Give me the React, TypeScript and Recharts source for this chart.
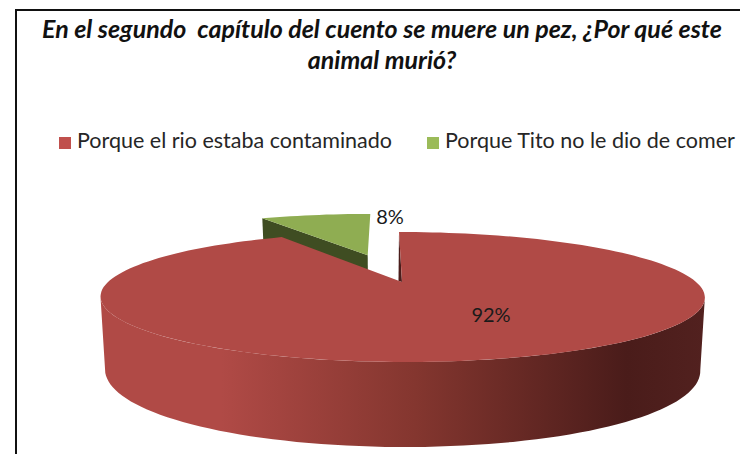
import React from 'react';
import { PieChart, Pie, Cell, Legend } from 'recharts';

// legend order
const categories = ['Porque el rio estaba contaminado', 'Porque Tito no le dio de comer'];
const shares = [92, 8];
const swatchColors = ['#c0504d', '#9bbb59'];
const topColors = ['#b04a46', '#8fad52'];
const titleLines = ['En el segundo  capítulo del cuento se muere un pez, ¿Por qué este', 'animal murió?'];

// the smaller slice is drawn first so the big one covers its wall
const drawOrder = [1, 0];
const rows = drawOrder.map((i) => ({ name: categories[i], value: shares[i], fill: swatchColors[i], top: topColors[i] }));

const W = 740;
const H = 454;
const PIE_CX = 402;
const PIE_CY = 256; // the legend height gets added to this by the chart
const PIE_R = 294;

// perspective of the tilted plate
const PERSP = 0.2308;
const TILT = 3.54;
const SKEW = 3;
const EXPLODE_GREEN = 0.5;
const EDGE = Math.asin(PERSP) * (180 / Math.PI);

const rad = (a: number) => (a * Math.PI) / 180;

const project = (cx: number, cy: number, r: number, u: number, v: number, down = false) => {
    const w = 1 + PERSP * v;
    const x = cx + (r * u) / w - SKEW * v;
    const y = (cy + TILT * v) / w;
    if (!down) return [x, y];
    return [cx + ((x - cx) * 0.985), y + 69.4 - 15.6 * v];
};

const toPath = (pts: number[][]) => pts.map((p, i) => `${i ? 'L' : 'M'}${p[0].toFixed(1)},${p[1].toFixed(1)}`).join(' ') + ' Z';

const arcAngles = (from: number, to: number) => {
    const n = Math.max(8, Math.ceil(Math.abs(to - from) / 2));
    return Array.from({ length: n + 1 }, (_, i) => from + ((to - from) * i) / n);
};

const PlateSlice = (props: any) => {
    const { cx, cy, outerRadius, startAngle, endAngle, payload } = props;
    const big = payload.value > 50;
    const mid = rad((startAngle + endAngle) / 2);
    const ou = big ? 0 : Math.cos(mid) * EXPLODE_GREEN;
    const ov = big ? 0 : Math.sin(mid) * EXPLODE_GREEN;
    const at = (a: number, down = false) => project(cx, cy, outerRadius, ou + Math.cos(rad(a)), ov + Math.sin(rad(a)), down);
    const apex = project(cx, cy, outerRadius, ou, ov);
    const rim = arcAngles(startAngle, endAngle).map((a) => at(a));
    const top = toPath([apex, ...rim]);

    if (big) {
        const front = arcAngles(-180 + EDGE, -EDGE);
        const wall = toPath([...front.map((a) => at(a)), ...[...front].reverse().map((a) => at(a, true))]);
        const outer = at(startAngle);
        return (
            <g>
                <path d={wall} fill="url(#wallShade)" />
                <path d={toPath([outer, apex, [apex[0] - 3.5, apex[1] - 1]])} fill="#4a1d1b" />
                <path d={top} fill={payload.top} />
            </g>
        );
    }
    const apexDown = project(cx, cy, outerRadius, ou, ov, true);
    const leftDown = at(startAngle, true);
    const side = toPath([at(startAngle), apex, apexDown, leftDown]);
    return (
        <g>
            <path d={side} fill="#3f4d22" />
            <path d={top} fill={payload.top} />
        </g>
    );
};

const sliceLabel = (props: any) => {
    const { cx, cy, payload } = props;
    const big = payload.value > 50;
    return (
        <text
            x={cx + (big ? 89 : -12)}
            y={cy + (big ? 32 : -66)}
            textAnchor="middle"
            dominantBaseline="central"
            fontFamily="Lato"
            fontSize={20}
            fill="#1a1a1a"
        >
            {`${payload.value}%`}
        </text>
    );
};

const App = () => {
    return (
        <div style={{ position: 'absolute', left: 0, top: 0, width: W, height: H, background: '#fff', overflow: 'hidden' }}>
            <div style={{ position: 'absolute', left: 15, top: 9, width: W, height: H, borderTop: '2px solid #111', borderLeft: '2px solid #111' }} />
            <div
                style={{
                    position: 'absolute',
                    left: 17,
                    top: 13,
                    width: 730,
                    textAlign: 'center',
                    fontFamily: 'Lato',
                    fontSize: 25,
                    fontWeight: 700,
                    fontStyle: 'italic',
                    lineHeight: '31px',
                    color: '#111',
                    whiteSpace: 'pre',
                }}
            >
                {titleLines.map((line) => (
                    <div key={line}>{line}</div>
                ))}
            </div>
            <PieChart width={W} height={H} margin={{ top: 0, right: 0, bottom: 0, left: 0 }}>
                <defs>
                    <linearGradient id="wallShade" x1="0" y1="0" x2="1" y2="0">
                        <stop offset="0%" stopColor="#b04a46" />
                        <stop offset="20%" stopColor="#b04a46" />
                        <stop offset="52%" stopColor="#84362f" />
                        <stop offset="87%" stopColor="#4a1c1a" />
                        <stop offset="100%" stopColor="#52211f" />
                    </linearGradient>
                </defs>
                <Legend
                    verticalAlign="top"
                    align="left"
                    iconType="square"
                    iconSize={12}
                    itemSorter={(item: any) => categories.indexOf(item.value)}
                    wrapperStyle={{ position: 'absolute', left: 59, top: 127, width: 700, fontFamily: 'Lato', fontSize: 21.5, whiteSpace: 'nowrap' }}
                    formatter={(value: string) => <span style={{ color: '#262626', marginLeft: 2, marginRight: 25 }}>{value}</span>}
                />
                <Pie
                    data={rows}
                    dataKey="value"
                    nameKey="name"
                    cx={PIE_CX}
                    cy={PIE_CY}
                    outerRadius={PIE_R}
                    startAngle={90 + (shares[1] / 100) * 360}
                    endAngle={90 + (shares[1] / 100) * 360 - 360}
                    stroke="none"
                    shape={PlateSlice}
                    label={sliceLabel}
                    labelLine={false}
                    isAnimationActive={false}
                >
                    {rows.map((row) => (
                        <Cell key={row.name} fill={row.fill} />
                    ))}
                </Pie>
            </PieChart>
        </div>
    );
};

export default App;
